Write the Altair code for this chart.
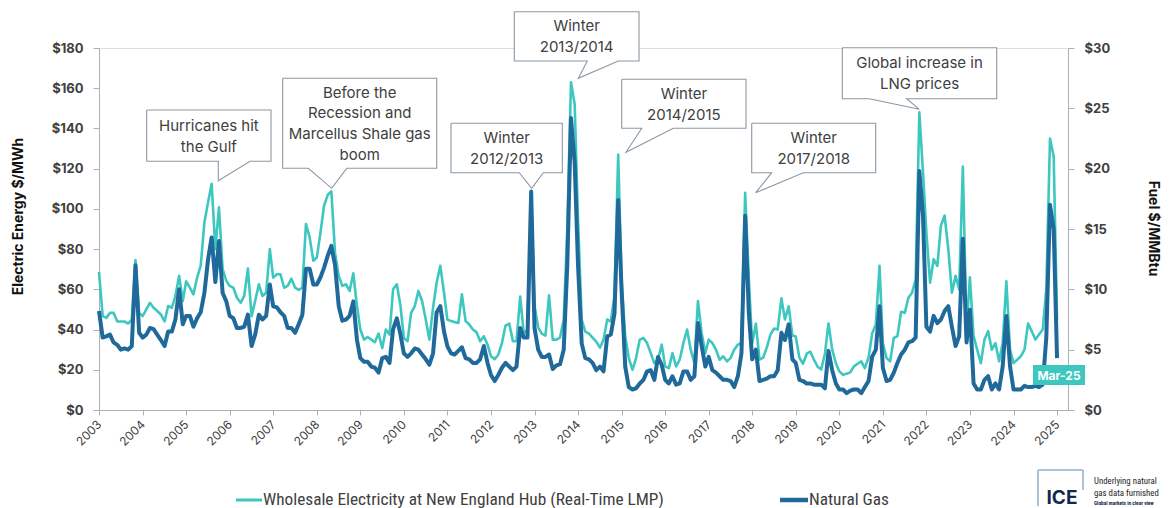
import altair as alt
import pandas as pd

# ------------------------------------------------------------------ data
START = "2003-03-01"          # first monthly observation
elec = [
    68.7, 46.7, 45.8, 48.3, 48.3, 44, 44, 44, 43, 45,
    74.5, 48.3, 46.7, 50, 53.3, 50.8, 49.2, 47.5, 44, 51.7,
    50.8, 56.7, 66.7, 54.2, 64, 60.8, 57.5, 65.8, 71.7, 93.3,
    103.3, 112.5, 80, 100.8, 70, 64.2, 61.7, 60.8, 55.8, 53.3,
    56.7, 70.3, 46.7, 54.2, 62.5, 56.7, 58.3, 80, 65.8, 67.5,
    67.5, 60.8, 61.7, 65.3, 60.8, 59.7, 60.8, 92.5, 85.8, 74.2,
    75.8, 88.3, 101.7, 107, 108.7, 78, 66.7, 61.7, 62.5, 59.2,
    68, 51.7, 40, 35, 36.3, 35, 33.7, 38, 30.8, 40,
    37.5, 60, 62.5, 51.7, 35.8, 34.2, 48.3, 51.7, 59.2, 54.2,
    45, 35, 50.8, 63.3, 71.7, 58.3, 45, 44.2, 43.7, 43.3,
    57.5, 44.2, 42.5, 40, 38.7, 34.2, 36.7, 32.5, 26.7, 25.3,
    27.5, 33.3, 42, 43, 34.2, 34.2, 56.4, 38, 40, 106,
    52, 41, 38, 37, 57, 35, 35, 36, 45, 90,
    163, 152, 95, 45, 39, 38, 36, 34, 31, 35,
    45, 44, 57, 127, 65, 36.7, 25.8, 20, 25.8, 35,
    35.8, 33.3, 28.3, 23.3, 25, 32.5, 21.7, 20.8, 28.3, 21.7,
    25, 33.3, 40, 30, 23.3, 54.2, 38.3, 28.3, 35, 33.3,
    30, 25, 26.7, 24.2, 25.8, 30, 32.5, 33.3, 108, 65,
    33, 43, 25, 26, 31, 37.5, 40.5, 40, 55.5, 45,
    51.6, 37, 36.5, 26, 23, 28, 29, 25, 21.5, 20.2,
    28, 43, 30, 23.3, 19.2, 17.5, 18, 18.7, 21.7, 23,
    24.2, 20.8, 26, 38, 42.5, 71.7, 33.3, 25.8, 24.2, 35.8,
    36.7, 48.8, 48.3, 55.8, 58.3, 65, 148, 118, 88.3, 63.3,
    75, 71.7, 91.7, 96.7, 80, 58.3, 66.7, 60, 121, 40,
    66, 36.7, 30, 23.3, 35, 39.2, 30, 33.3, 24.2, 33.3,
    64, 30, 23.3, 25, 26.7, 30, 43, 39.2, 35, 37.5,
    40, 60, 135, 126, 45,
]
gas = [
    8.2, 6.0, 6.1, 6.25, 5.6, 5.4, 5.0, 5.1, 5.0, 5.3,
    12.0, 6.4, 6.0, 6.25, 6.8, 6.7, 6.25, 5.8, 5.3, 6.5,
    6.5, 7.5, 10.0, 7.1, 7.8, 7.8, 6.9, 7.6, 8.1, 9.7,
    12.5, 14.3, 10.6, 14.0, 9.7, 9.0, 7.8, 7.6, 6.8, 6.8,
    6.9, 7.9, 5.3, 6.25, 7.9, 7.5, 7.8, 10.4, 8.6, 8.5,
    8.1, 7.8, 6.8, 6.8, 6.4, 7.1, 7.9, 11.7, 11.7, 10.4,
    10.4, 11.0, 11.8, 12.8, 13.6, 12.0, 8.6, 7.4, 7.5, 7.8,
    9.0, 5.8, 4.3, 4.0, 4.0, 3.6, 3.5, 3.1, 4.3, 4.4,
    3.9, 6.7, 7.6, 6.25, 4.7, 4.4, 4.7, 5.1, 5.0, 4.6,
    4.2, 3.75, 4.7, 8.1, 8.6, 6.5, 5.3, 4.7, 4.6, 4.9,
    5.2, 4.3, 4.2, 3.9, 3.9, 4.2, 5.3, 3.9, 2.9, 2.4,
    2.9, 3.5, 3.9, 3.6, 3.3, 3.6, 6.8, 6.0, 6.0, 18.1,
    6.8, 5.0, 4.4, 4.4, 4.6, 3.4, 3.7, 3.8, 5.0, 12,
    24.2, 20.5, 12, 5.5, 4.3, 4.2, 3.9, 3.3, 3.6, 3.2,
    6.1, 6.25, 8, 17.4, 10, 3.6, 1.9, 1.7, 1.8, 2.2,
    2.5, 3.2, 3.3, 2.5, 4.4, 3.75, 2.5, 2.2, 2.8, 2.1,
    2.2, 3.2, 3.2, 2.5, 2.8, 7.2, 5.3, 3.6, 4.4, 3.3,
    3.1, 2.8, 2.5, 2.5, 2.4, 1.9, 2.8, 4.7, 16.1, 8,
    4.2, 5.0, 2.4, 2.5, 2.6, 2.8, 2.8, 3.3, 6.4, 5.8,
    7.1, 4.2, 3.9, 2.5, 2.4, 2.2, 2.2, 2.1, 2.1, 2.1,
    1.8, 4.9, 3.3, 2.2, 1.7, 1.7, 1.4, 1.6, 1.7, 1.7,
    1.4, 1.9, 2.4, 4.4, 5.0, 8.6, 3.5, 2.4, 2.5, 3.1,
    3.9, 4.6, 5.0, 5.6, 5.7, 6, 19.8, 16.1, 6.9, 6.5,
    7.8, 7.2, 7.5, 8.2, 8.6, 6.9, 5.3, 6.1, 14.2, 5.6,
    8.3, 2.2, 1.7, 1.7, 2.5, 2.8, 1.7, 2.2, 1.7, 3.6,
    7.8, 3.6, 1.7, 1.7, 1.7, 2.0, 1.9, 1.9, 2.0, 1.9,
    2.1, 6, 17, 15, 4.3,
]
year_ticks = list(range(2003, 2026))
elec_ticks = list(range(0, 181, 20))
gas_ticks = list(range(0, 31, 5))
series_names = ["Wholesale Electricity at New England Hub (Real-Time LMP)", "Natural Gas"]
last_label = "Mar-25"
callout_texts = [
    "Hurricanes hit\nthe Gulf",
    "Before the\nRecession and\nMarcellus Shale gas\nboom",
    "Winter\n2012/2013",
    "Winter\n2013/2014",
    "Winter\n2014/2015",
    "Winter\n2017/2018",
    "Global increase in\nLNG prices",
]

# ------------------------------------------------------------------ layout / style
TEAL = "#3DC7BF"
NAVY = "#1F6A9A"
AXC = "#A9B2BA"
TXT = "#404040"
BOXC = "#8A99A4"
NARROW = "Liberation Sans Narrow, Roboto Condensed, DejaVu Sans Condensed, sans-serif"
X0, Y0 = 99, 48          # page position of plot origin
W, H = 969, 362
TOTAL_W, TOTAL_H = 1155, 500
LH = 20.8                # callout line height


def lx(v):
    return v - X0


def ly(v):
    return v - Y0


# callout geometry in page pixels: box (x0, y0, x1, y1), pointer base-left, tip (x, y), base-right
callout_geo = [
    ((146.7, 110, 271, 161.3), 218.3, (218.3, 180.7), 250),
    ((282.7, 78.3, 436.7, 168.3), 308.3, (331.7, 188.3), 346.7),
    ((451, 123.3, 562.3, 172.7), 519.3, (531.7, 188.3), 543.3),
    ((514.3, 11.7, 639, 61), 587.3, (578.3, 78.3), 618.3),
    ((621.7, 79.3, 746, 128.3), 641.7, (626, 152.3), 673.3),
    ((751.7, 123.3, 875.7, 172.7), 771.7, (755.7, 192.7), 803.3),
    ((842.3, 47.7, 996.7, 98.7), 869.3, (919.3, 109.3), 906.7),
]

dates = pd.date_range(START, periods=len(elec), freq="MS").strftime("%Y-%m-%dT00:00:00").tolist()
df = pd.DataFrame({"date": dates, "elec": elec, "gas": gas})

xsc = alt.Scale(domain=[alt.DateTime(year=2003, month=3, date=1),
                        alt.DateTime(year=2025, month=6, date=1)])
xaxis = alt.Axis(
    values=[alt.DateTime(year=y, month=3, date=1) for y in year_ticks],
    format="%Y", labelAngle=315, labelAlign="right", labelBaseline="middle",
    labelFont="Inter", labelFontSize=12, labelColor=TXT, labelPadding=7,
    tickSize=5, tickColor=AXC, domainColor=AXC, grid=False, title=None,
    labelOverlap=False, labelFlush=False,
)
axis_common = dict(
    labelFont="Inter", labelFontSize=13, labelFontWeight="bold", labelColor=TXT,
    tickSize=6, tickColor=AXC, domainColor=AXC, grid=False, labelPadding=10,
    format="$,.0f", titleFont="Inter", titleFontSize=14, titleFontWeight="bold",
    titleColor="#111111", titleAlign="center", titleBaseline="middle",
)

elec_line = alt.Chart(df).mark_line(color=TEAL, strokeWidth=2.6, strokeJoin="round").encode(
    x=alt.X("date:T", scale=xsc, axis=xaxis),
    y=alt.Y("elec:Q", scale=alt.Scale(domain=[0, 180], nice=False),
            axis=alt.Axis(values=elec_ticks, title="Electric  Energy $/MWh", titleAngle=270,
                          titleX=-81, titleY=168, **axis_common)),
)
gas_line = alt.Chart(df).mark_line(color=NAVY, strokeWidth=4, strokeJoin="round").encode(
    x=alt.X("date:T", scale=xsc, axis=None),
    y=alt.Y("gas:Q", scale=alt.Scale(domain=[0, 30], nice=False),
            axis=alt.Axis(orient="right", values=gas_ticks, title="Fuel $/MMBtu", titleAngle=90,
                          titleX=84, titleY=180, **axis_common)),
)

# ---- callouts
box_rows, outline_rows, text_rows = [], [], []
for i, (txt, ((x0, y0, x1, y1), bl, (tx, ty), br)) in enumerate(zip(callout_texts, callout_geo)):
    box_rows.append({"x": lx(x0), "x2": lx(x1), "y": ly(y0), "y2": ly(y1)})
    pts = [(x0, y0), (x1, y0), (x1, y1), (br, y1), (tx, ty), (bl, y1), (x0, y1), (x0, y0)]
    for s, (px, py) in enumerate(pts):
        outline_rows.append({"id": i, "seq": s, "x": lx(px), "y": ly(py)})
    n = txt.count("\n") + 1
    first = (y0 + y1) / 2 + 0.5 - (n - 1) * LH / 2
    text_rows.append({"x": lx((x0 + x1) / 2), "y": ly(first), "t": txt})

PX = dict(scale=None, axis=None)
boxes = alt.Chart(pd.DataFrame(box_rows)).mark_rect(fill="white").encode(
    x=alt.X("x:Q", **PX), x2="x2:Q", y=alt.Y("y:Q", **PX), y2="y2:Q")
outlines = alt.Chart(pd.DataFrame(outline_rows)).mark_line(color=BOXC, strokeWidth=1.1).encode(
    x=alt.X("x:Q", **PX), y=alt.Y("y:Q", **PX), detail="id:N", order="seq:Q")
texts = alt.Chart(pd.DataFrame(text_rows)).mark_text(
    font="Inter", fontSize=15, color=TXT, lineBreak="\n", lineHeight=LH,
    align="center", baseline="middle").encode(
    x=alt.X("x:Q", **PX), y=alt.Y("y:Q", **PX), text="t:N")

# ---- last value label
tag_box = alt.Chart(pd.DataFrame([{"x": lx(1033), "x2": lx(1085), "y": ly(365), "y2": ly(385)}])).mark_rect(
    fill=TEAL).encode(x=alt.X("x:Q", **PX), x2="x2:Q", y=alt.Y("y:Q", **PX), y2="y2:Q")
tag_txt = alt.Chart(pd.DataFrame([{"x": lx(1059), "y": ly(375.5), "t": last_label}])).mark_text(
    font="Inter", fontSize=12, fontWeight="bold", color="white", align="center", baseline="middle").encode(
    x=alt.X("x:Q", **PX), y=alt.Y("y:Q", **PX), text="t:N")

# ---- legend
LEG_Y = 500
leg_lines = alt.Chart(pd.DataFrame([
    {"x": lx(236), "x2": lx(262), "y": ly(LEG_Y), "c": TEAL, "w": 3},
    {"x": lx(780), "x2": lx(808), "y": ly(LEG_Y), "c": NAVY, "w": 4.5},
])).mark_rule().encode(
    x=alt.X("x:Q", **PX), x2="x2:Q", y=alt.Y("y:Q", **PX),
    color=alt.Color("c:N", scale=None), strokeWidth=alt.StrokeWidth("w:Q", scale=None))
leg_text = alt.Chart(pd.DataFrame([
    {"x": lx(263), "y": ly(LEG_Y), "t": series_names[0]},
    {"x": lx(809), "y": ly(LEG_Y), "t": series_names[1]},
])).mark_text(font=NARROW, fontSize=17.3, color=TXT, align="left", baseline="middle").encode(
    x=alt.X("x:Q", **PX), y=alt.Y("y:Q", **PX), text="t:N")

# ---- source logo
logo_lines = alt.Chart(pd.DataFrame([
    {"x": lx(1038), "x2": lx(1038), "y": ly(470), "y2": ly(506)},
    {"x": lx(1038), "x2": lx(1083), "y": ly(470), "y2": ly(470)},
    {"x": lx(1083), "x2": lx(1083), "y": ly(470), "y2": ly(490)},
])).mark_rule(color="#A9C2D6", strokeWidth=2).encode(
    x=alt.X("x:Q", **PX), x2="x2:Q", y=alt.Y("y:Q", **PX), y2="y2:Q")
logo_ice = alt.Chart(pd.DataFrame([{"x": lx(1062), "y": ly(498), "t": "ICE"}])).mark_text(
    font="Inter", fontSize=19, fontWeight="bold", color="#14294A", align="center", baseline="middle").encode(
    x=alt.X("x:Q", **PX), y=alt.Y("y:Q", **PX), text="t:N")
logo_txt = alt.Chart(pd.DataFrame([
    {"x": lx(1094), "y": ly(481), "t": "Underlying natural"},
    {"x": lx(1094), "y": ly(493), "t": "gas data furnished"},
])).mark_text(font=NARROW, fontSize=8.8, color="#222222", align="left", baseline="middle").encode(
    x=alt.X("x:Q", **PX), y=alt.Y("y:Q", **PX), text="t:N")
logo_small = alt.Chart(pd.DataFrame([{"x": lx(1094), "y": ly(503), "t": "Global markets in clear view"}])).mark_text(
    font=NARROW, fontSize=5.3, fontWeight="bold", color="#14294A", align="left", baseline="middle").encode(
    x=alt.X("x:Q", **PX), y=alt.Y("y:Q", **PX), text="t:N")

chart = alt.layer(
    elec_line, gas_line, boxes, outlines, texts, tag_box, tag_txt,
    leg_lines, leg_text, logo_lines, logo_ice, logo_txt, logo_small,
).resolve_scale(x="independent", y="independent").properties(
    width=W, height=H,
    autosize=alt.AutoSizeParams(type="none"),
    padding={"left": X0 - 8, "top": Y0 - 8, "right": TOTAL_W - (X0 - 8) - W,
             "bottom": TOTAL_H - (Y0 - 8) - H},
).configure_view(strokeWidth=0).configure(background="white")

chart.save("out.html", embed_options={"renderer": "svg", "actions": False})
